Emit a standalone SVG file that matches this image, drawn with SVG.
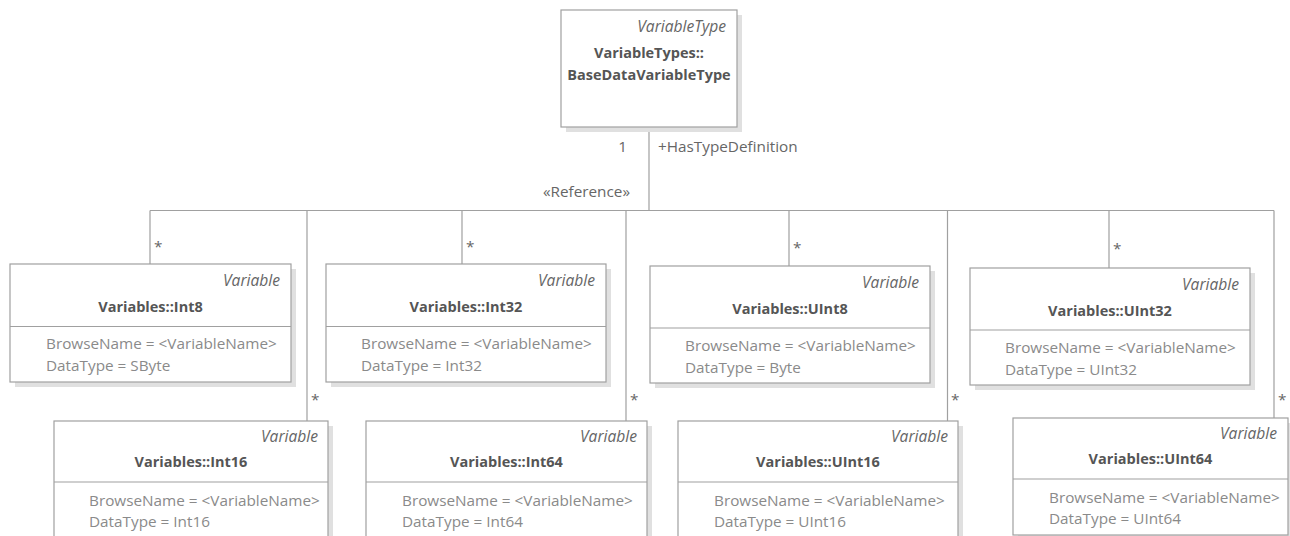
<svg xmlns="http://www.w3.org/2000/svg" width="1290" height="536" viewBox="0 0 1290 536">
<style>
text{font-family:"Open Sans","Liberation Sans",sans-serif;font-size:15.3px}
.shadow{fill:#e0e0e0}
.box{fill:#fff;stroke:#a0a0a0;stroke-width:1.2}
.div{stroke:#a0a0a0;stroke-width:1.2}
.ster{font-style:italic;fill:#666;text-anchor:end;font-size:15.6px}
.name{font-weight:bold;fill:#555;text-anchor:middle;font-size:14.5px}
.attr{fill:#8a8a8a}
.lbl{fill:#666}
.conn{fill:none;stroke:#a0a0a0;stroke-width:1.2}
</style>
<g id="connectors">
<path class="conn" d="M649,127V210.5M150,210.5H1274M150,210.5V264M307,210.5V421M462,210.5V264M626,210.5V421M789,210.5V266M947.5,210.5V421M1109,210.5V268M1274,210.5V418"/>
<text class="lbl" x="627" y="152" text-anchor="end">1</text>
<text class="lbl" x="658" y="152">+HasTypeDefinition</text>
<text class="lbl" x="630" y="197" text-anchor="end">«Reference»</text>
<text class="lbl" x="154" y="252">*</text>
<text class="lbl" x="311" y="405">*</text>
<text class="lbl" x="466" y="252">*</text>
<text class="lbl" x="630" y="405">*</text>
<text class="lbl" x="793" y="253">*</text>
<text class="lbl" x="951" y="405">*</text>
<text class="lbl" x="1113" y="254">*</text>
<text class="lbl" x="1278" y="405">*</text>
</g>
<g id="BaseDataVariableType">
<rect class="shadow" x="566" y="15" width="176" height="117"/>
<rect class="box" x="561" y="10" width="176" height="117"/>
<text class="ster" x="726" y="32">VariableType</text>
<text class="name" x="649" y="58">VariableTypes::</text>
<text class="name" x="649" y="80">BaseDataVariableType</text>
</g>
<g id="Int8" transform="translate(10,264)">
<rect class="shadow" x="5" y="5" width="281" height="118"/>
<rect class="box" x="0" y="0" width="281" height="118"/>
<line class="div" x1="0" y1="62.5" x2="281" y2="62.5"/>
<text class="ster" x="270" y="22">Variable</text>
<text class="name" x="140.5" y="48">Variables::Int8</text>
<text class="attr" x="36" y="85">BrowseName = &lt;VariableName&gt;</text>
<text class="attr" x="36" y="107">DataType = SByte</text>
</g>
<g id="Int32" transform="translate(326,264)">
<rect class="shadow" x="5" y="5" width="280" height="118"/>
<rect class="box" x="0" y="0" width="280" height="118"/>
<line class="div" x1="0" y1="62.5" x2="280" y2="62.5"/>
<text class="ster" x="269" y="22">Variable</text>
<text class="name" x="140" y="48">Variables::Int32</text>
<text class="attr" x="35" y="85">BrowseName = &lt;VariableName&gt;</text>
<text class="attr" x="35" y="107">DataType = Int32</text>
</g>
<g id="UInt8" transform="translate(650,266)">
<rect class="shadow" x="5" y="5" width="280" height="117"/>
<rect class="box" x="0" y="0" width="280" height="117"/>
<line class="div" x1="0" y1="62" x2="280" y2="62"/>
<text class="ster" x="269" y="22">Variable</text>
<text class="name" x="140" y="48">Variables::UInt8</text>
<text class="attr" x="35" y="85">BrowseName = &lt;VariableName&gt;</text>
<text class="attr" x="35" y="107">DataType = Byte</text>
</g>
<g id="UInt32" transform="translate(970,268)">
<rect class="shadow" x="5" y="5" width="280" height="117"/>
<rect class="box" x="0" y="0" width="280" height="117"/>
<line class="div" x1="0" y1="62" x2="280" y2="62"/>
<text class="ster" x="269" y="22">Variable</text>
<text class="name" x="140" y="48">Variables::UInt32</text>
<text class="attr" x="35" y="85">BrowseName = &lt;VariableName&gt;</text>
<text class="attr" x="35" y="107">DataType = UInt32</text>
</g>
<g id="Int16" transform="translate(54,421)">
<rect class="shadow" x="5" y="5" width="274" height="118"/>
<rect class="box" x="0" y="0" width="274" height="118"/>
<line class="div" x1="0" y1="61" x2="274" y2="61"/>
<text class="ster" x="264" y="21">Variable</text>
<text class="name" x="137" y="46">Variables::Int16</text>
<text class="attr" x="35" y="85">BrowseName = &lt;VariableName&gt;</text>
<text class="attr" x="35" y="106">DataType = Int16</text>
</g>
<g id="Int64" transform="translate(366,421)">
<rect class="shadow" x="5" y="5" width="281" height="118"/>
<rect class="box" x="0" y="0" width="281" height="118"/>
<line class="div" x1="0" y1="61" x2="281" y2="61"/>
<text class="ster" x="271" y="21">Variable</text>
<text class="name" x="140.5" y="46">Variables::Int64</text>
<text class="attr" x="36" y="85">BrowseName = &lt;VariableName&gt;</text>
<text class="attr" x="36" y="106">DataType = Int64</text>
</g>
<g id="UInt16" transform="translate(678,421)">
<rect class="shadow" x="5" y="5" width="280" height="118"/>
<rect class="box" x="0" y="0" width="280" height="118"/>
<line class="div" x1="0" y1="61" x2="280" y2="61"/>
<text class="ster" x="270" y="21">Variable</text>
<text class="name" x="140" y="46">Variables::UInt16</text>
<text class="attr" x="36" y="85">BrowseName = &lt;VariableName&gt;</text>
<text class="attr" x="36" y="106">DataType = UInt16</text>
</g>
<g id="UInt64" transform="translate(1013,418)">
<rect class="shadow" x="5" y="5" width="275" height="117"/>
<rect class="box" x="0" y="0" width="275" height="117"/>
<line class="div" x1="0" y1="61" x2="275" y2="61"/>
<text class="ster" x="264" y="21">Variable</text>
<text class="name" x="137.5" y="46">Variables::UInt64</text>
<text class="attr" x="36" y="85">BrowseName = &lt;VariableName&gt;</text>
<text class="attr" x="36" y="106">DataType = UInt64</text>
</g>
</svg>
